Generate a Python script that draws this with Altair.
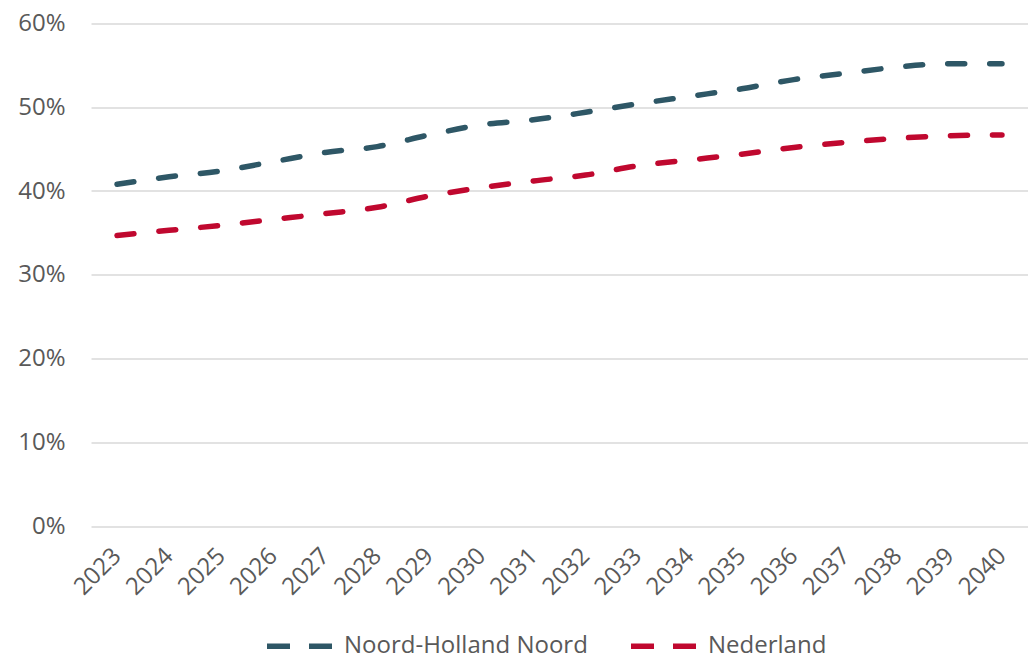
import altair as alt
import pandas as pd

years = [str(y) for y in range(2023, 2041)]
nhn = [40.8, 41.7, 42.4, 43.5, 44.6, 45.3, 46.7, 47.9, 48.5, 49.4, 50.4, 51.3, 52.2, 53.3, 54.05, 54.8, 55.2, 55.2]
nl = [34.7, 35.3, 35.9, 36.6, 37.3, 38.05, 39.4, 40.4, 41.2, 41.9, 43.0, 43.7, 44.4, 45.2, 45.8, 46.3, 46.6, 46.7]
series = ["Noord-Holland Noord", "Nederland"]
colors = ["#2e5766", "#c0082f"]

rows = []
for y, a, b in zip(years, nhn, nl):
    rows.append({"jaar": y, "reeks": series[0], "waarde": a / 100})
    rows.append({"jaar": y, "reeks": series[1], "waarde": b / 100})
df = pd.DataFrame(rows)

FONT = "Open Sans"
TXT = "#595959"
FS = 24

chart = alt.Chart(df).mark_line(
    strokeDash=[17, 25], strokeCap="round", strokeWidth=5.5, interpolate="monotone"
).encode(
    x=alt.X("jaar:N", sort=years, title=None,
            scale=alt.Scale(paddingInner=0, paddingOuter=0.5),
            axis=alt.Axis(labelAngle=-45, labelAlign="right", labelBaseline="middle",
                          labelPadding=26, domain=False, ticks=False, grid=False,
                          labelFontSize=FS, labelColor=TXT, labelFont=FONT)),
    y=alt.Y("waarde:Q", title=None,
            scale=alt.Scale(domain=[0, 0.6], nice=False),
            axis=alt.Axis(values=[0, 0.1, 0.2, 0.3, 0.4, 0.5, 0.6], format=".0%",
                          domain=False, ticks=False, grid=True, gridColor="#d9d9d9",
                          gridWidth=1.5, labelPadding=26,
                          labelFontSize=FS, labelColor=TXT, labelFont=FONT)),
    color=alt.Color("reeks:N", sort=series, title=None,
                    scale=alt.Scale(domain=series, range=colors),
                    legend=alt.Legend(orient="none", direction="horizontal",
                                      legendX=173, legendY=587,
                                      symbolType="stroke", symbolSize=4225,
                                      symbolStrokeWidth=5.5, symbolDash=[23, 19],
                                      labelFontSize=FS, labelColor=TXT, labelFont=FONT,
                                      labelOffset=9, columnPadding=32, labelLimit=400)),
).properties(
    width=937, height=502.5,
    autosize=alt.AutoSizeParams(type="none"),
    padding={"left": 83, "top": 15.5, "right": 0, "bottom": 130},
).configure_view(stroke=None)

chart.save("out.html", embed_options={"renderer": "svg", "actions": False})
